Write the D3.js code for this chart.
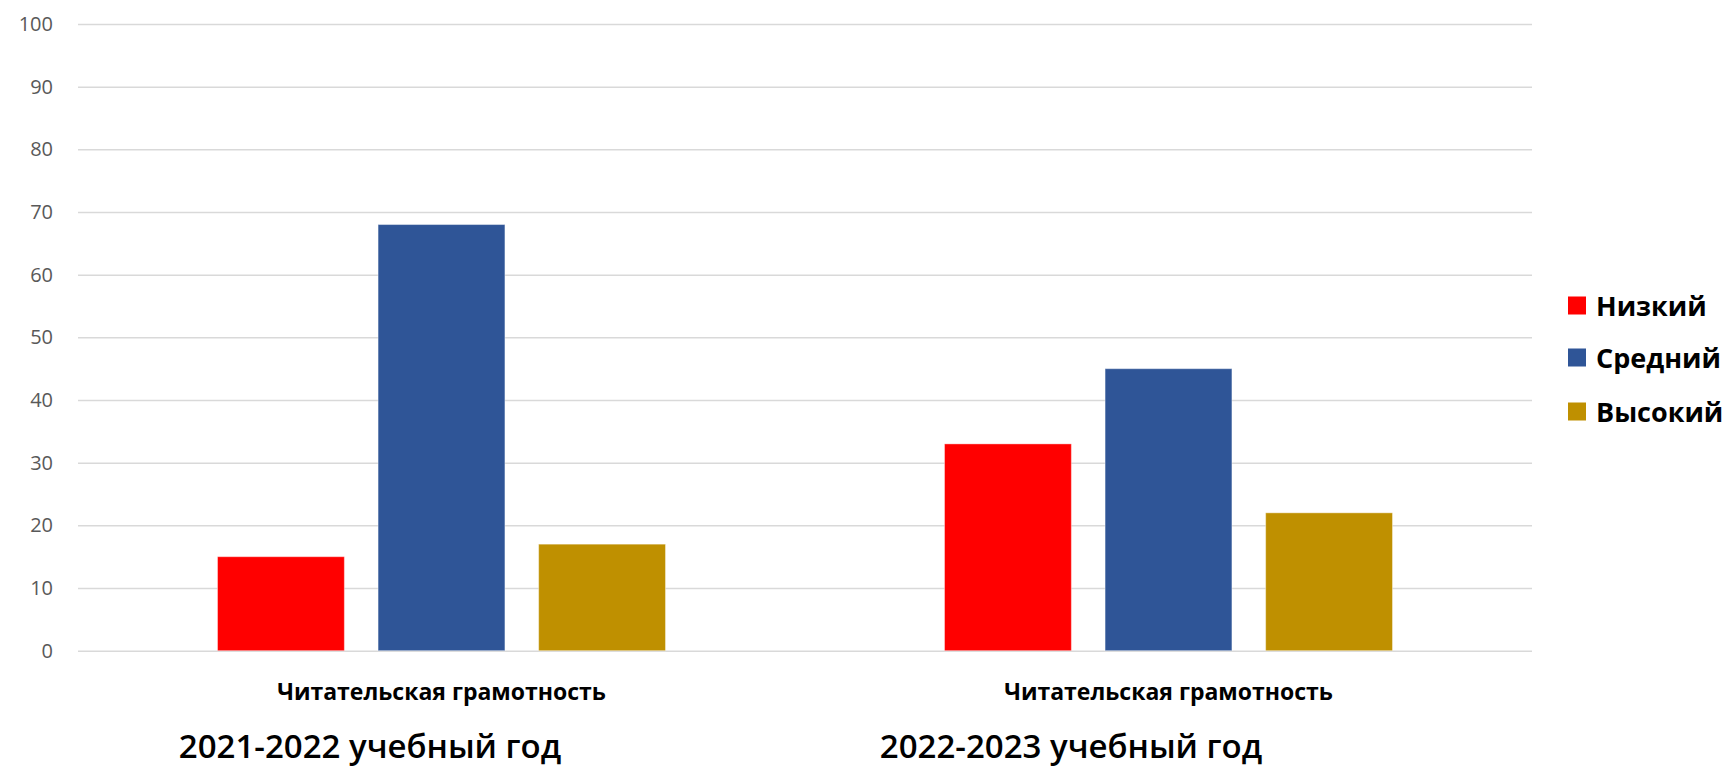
<!DOCTYPE html>
<html>
<head>
<meta charset="utf-8">
<script src="https://cdn.jsdelivr.net/npm/d3@7"></script>
<style>
  html, body { margin: 0; padding: 0; background: #ffffff; }
  svg { display: block; }
</style>
</head>
<body>
<svg id="chart" width="1728" height="767"></svg>
<script>
const categories = ["2021-2022", "2022-2023"];
const categoryLabels = ["Читательская грамотность", "Читательская грамотность"];
const seriesNames = ["Низкий", "Средний", "Высокий"];
const seriesColors = ["#ff0000", "#2f5597", "#bf9000"];
const lowValues = [15, 33];
const midValues = [68, 45];
const highValues = [17, 22];
const yTicks = [0, 10, 20, 30, 40, 50, 60, 70, 80, 90, 100];
const yearTitles = ["2021-2022 учебный год", "2022-2023 учебный год"];

const seriesValues = [lowValues, midValues, highValues];
const data = categories.map((c, i) => ({
  cat: c,
  values: seriesNames.map((s, j) => ({ series: s, value: seriesValues[j][i] }))
}));

const svg = d3.select("#chart");
const plotLeft = 78, plotRight = 1532, plotTop = 24, plotBottom = 650.7;

const y = d3.scaleLinear().domain([0, 100]).range([plotBottom, plotTop]);
const x0 = d3.scaleBand().domain(categories).range([plotLeft, plotRight])
  .paddingInner(0.3838).paddingOuter(0.1919);
const x1 = d3.scaleBand().domain(seriesNames).range([0, x0.bandwidth()])
  .paddingInner(0.21).paddingOuter(0);
const color = d3.scaleOrdinal().domain(seriesNames).range(seriesColors);

// gridlines + y labels via axis
const yAxis = d3.axisLeft(y).tickValues(yTicks).tickSize(-(plotRight - plotLeft)).tickPadding(25);
const gy = svg.append("g").attr("transform", `translate(${plotLeft},0)`).call(yAxis);
gy.select(".domain").remove();
gy.selectAll(".tick line").attr("stroke", "#d9d9d9").attr("stroke-width", 1.5);
gy.selectAll(".tick text")
  .attr("fill", "#595959")
  .attr("font-family", "'Open Sans', sans-serif")
  .attr("font-size", 20);

// bars
const groups = svg.append("g").selectAll("g").data(data).join("g")
  .attr("transform", d => `translate(${x0(d.cat)},0)`);
groups.selectAll("rect").data(d => d.values).join("rect")
  .attr("x", d => x1(d.series))
  .attr("width", x1.bandwidth())
  .attr("y", d => y(d.value))
  .attr("height", d => y(0) - y(d.value))
  .attr("fill", d => color(d.series))
  .attr("stroke", "#ffffff")
  .attr("stroke-opacity", 0.4)
  .attr("stroke-width", 1);

// category labels
svg.append("g").selectAll("text").data(categories).join("text")
  .attr("x", d => x0(d) + x0.bandwidth() / 2)
  .attr("y", 700)
  .attr("text-anchor", "middle")
  .attr("font-family", "'Open Sans', sans-serif")
  .attr("font-weight", 700)
  .attr("font-size", 23)
  .attr("fill", "#000")
  .text((d, i) => categoryLabels[i]);

// year titles
const titleX = [370, 1071];
svg.append("g").selectAll("text").data(yearTitles).join("text")
  .attr("x", (d, i) => titleX[i])
  .attr("y", 758)
  .attr("text-anchor", "middle")
  .attr("font-family", "'Open Sans', sans-serif")
  .attr("font-weight", 600)
  .attr("font-size", 33)
  .attr("fill", "#000")
  .text(d => d);

// legend
const legend = svg.append("g").attr("transform", "translate(1568,0)");
const legendY = [305.5, 357.5, 411.5];
const lg = legend.selectAll("g").data(seriesNames).join("g")
  .attr("transform", (d, i) => `translate(0,${legendY[i]})`);
lg.append("rect").attr("x", 0).attr("y", -9).attr("width", 18).attr("height", 18)
  .attr("fill", d => color(d));
lg.append("text").attr("x", 28).attr("y", 10)
  .attr("font-family", "'Open Sans', sans-serif")
  .attr("font-weight", 700)
  .attr("font-size", 27)
  .attr("fill", "#000")
  .text(d => d);
</script>
</body>
</html>
